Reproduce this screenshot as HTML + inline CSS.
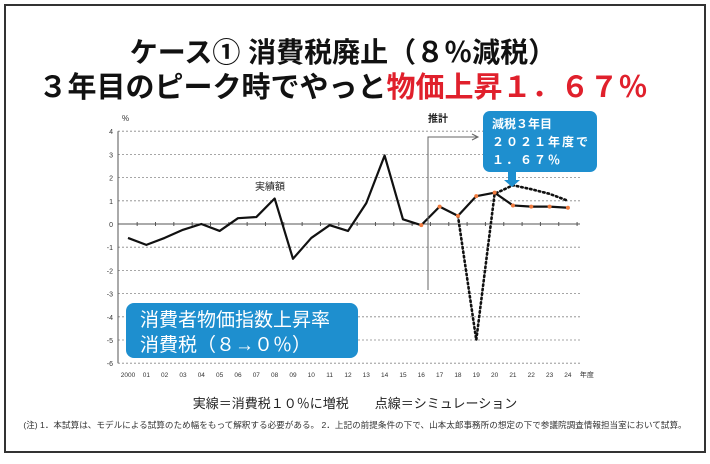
<!DOCTYPE html>
<html><head><meta charset="utf-8"><style>
body{margin:0;background:#fff;width:710px;height:459px;overflow:hidden;font-family:"Liberation Sans","Noto Sans CJK JP",sans-serif}
</style></head><body>
<svg width="710" height="459" xmlns="http://www.w3.org/2000/svg">
<rect x="5" y="5" width="700" height="447" fill="#fff" stroke="#333" stroke-width="2"/>
<text x="343" y="62" text-anchor="middle" font-size="28" font-weight="bold" fill="#111">ケース① 消費税廃止（８％減税）</text>
<text x="343" y="97" text-anchor="middle" font-size="29" font-weight="bold" fill="#111">３年目のピーク時でやっと<tspan fill="#e0202c">物価上昇１．６７％</tspan></text>
<g id="axes"></g>
<g id="marks"></g>
<text x="122" y="121" font-size="8" fill="#333">%</text>
<text x="270" y="190" text-anchor="middle" font-size="10" fill="#222">実績額</text>
<text x="428" y="122" font-size="10" font-weight="bold" fill="#222">推計</text>
<path d="M428 290 V137 H477" fill="none" stroke="#666" stroke-width="1"/>
<path d="M472 134 L478 137 L472 140" fill="none" stroke="#666"/>
<rect x="126" y="303" width="232" height="55" rx="8" fill="#1e8fcf"/>
<text x="140" y="326" font-size="19" fill="#fff">消費者物価指数上昇率</text>
<text x="140" y="351" font-size="19" fill="#fff">消費税（８→０％）</text>
<rect x="483" y="111" width="114" height="61" rx="7" fill="#1e8fcf"/>
<path d="M508 171 V180 H504 L512 187 L520 180 H516 V171 Z" fill="#1e8fcf"/>
<text x="492" y="128" font-size="12" font-weight="bold" fill="#fff">減税３年目</text>
<text x="492" y="146" font-size="12" font-weight="bold" fill="#fff" letter-spacing="2">２０２１年度で</text>
<text x="492" y="164" font-size="12" font-weight="bold" fill="#fff" letter-spacing="2">１．６７％</text>
<text x="355" y="408" text-anchor="middle" font-size="13" fill="#222">実線＝消費税１０％に増税　　点線＝シミュレーション</text>
<text x="355" y="428" text-anchor="middle" font-size="8.6" fill="#333">(注) 1．本試算は、モデルによる試算のため幅をもって解釈する必要がある。 2．上記の前提条件の下で、山本太郎事務所の想定の下で参議院調査情報担当室において試算。</text>
</svg>
<script>
const years=["2000","01","02","03","04","05","06","07","08","09","10","11","12","13","14","15","16","17","18","19","20","21","22","23","24"];
const yTicks=[4,3,2,1,0,-1,-2,-3,-4,-5,-6];
const actual=[-0.6,-0.9,-0.6,-0.25,0.0,-0.3,0.25,0.3,1.1,-1.5,-0.6,-0.05,-0.3,0.9,2.95,0.2,-0.05,0.75,0.35,1.2,1.35,0.8,0.75,0.75,0.7];
const simYears=["18","19","20","21","22","23","24"];
const simValues=[0.35,-5.0,1.3,1.67,1.5,1.3,1.0];
const NS="http://www.w3.org/2000/svg";
const x0=128,dx=18.33,yZero=224,dy=23.2;
function xs(i){return x0+i*dx;}
function ys(v){return yZero-v*dy;}
function mk(t,a,p){const e=document.createElementNS(NS,t);for(const k in a)e.setAttribute(k,a[k]);p.appendChild(e);return e;}
const ax=document.getElementById('axes'),mg=document.getElementById('marks');
yTicks.forEach(v=>{
 const g=mk('line',{x1:118,x2:580,y1:ys(v),y2:ys(v),stroke:v===0?'#555':'#888','stroke-width':v===0?1:0.8,'stroke-dasharray':v===0?'':'2,2'},ax);
 
 
 const t=mk('text',{x:113,y:ys(v)+3,'text-anchor':'end','font-size':7,fill:'#333'},ax);t.textContent=v;
 
 
});
const yl=mk('line',{x1:118,x2:118,y1:ys(4),y2:ys(-6),stroke:'#555'},ax);


years.forEach((y,i)=>{
 const t=mk('text',{x:xs(i),y:377,'text-anchor':'middle','font-size':6.5,fill:'#333'},ax);t.textContent=y;
 
 
 const tk=mk('line',{x1:xs(i)+dx/2,x2:xs(i)+dx/2,y1:yZero-2,y2:yZero+2,stroke:'#555'},ax);
 
 
});
const xu=mk('text',{x:xs(years.length-1)+12,y:377,'font-size':7,fill:'#333'},ax);xu.textContent='年度';


const si=years.indexOf(simYears[0]);
const sp=mk('polyline',{points:simValues.map((v,i)=>xs(si+i)+','+ys(v)).join(' '),fill:'none',stroke:'#111','stroke-width':2.6,'stroke-dasharray':'1.5,3','stroke-linecap':'round'},mg);


const ap=mk('polyline',{points:actual.map((v,i)=>xs(i)+','+ys(v)).join(' '),fill:'none',stroke:'#111','stroke-width':2.2,'stroke-linejoin':'round'},mg);


actual.forEach((v,i)=>{if(i>=16){
 const c=mk('circle',{cx:xs(i),cy:ys(v),r:2,fill:'#f07b3f'},mg);
 
 
}});
</script>
</body></html>
